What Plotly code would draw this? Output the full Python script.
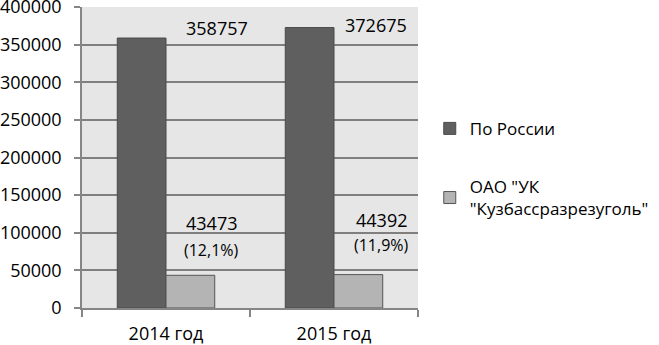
import plotly.graph_objects as go

categories = ["2014 год", "2015 год"]
russia = [358757, 372675]
kuzbass = [43473, 44392]
series_names = ["По России", 'ОАО "УК<br>"Кузбассразрезуголь"']
y_ticks = [0, 50000, 100000, 150000, 200000, 250000, 300000, 350000, 400000]
y_tick_labels = [str(v) for v in y_ticks]

FONT = "Open Sans"
W, H = 659, 345
L, R, T, B = 82, 241, 7, 37

fig = go.Figure()
fig.add_trace(go.Bar(x=categories, y=russia, name=series_names[0],
                     marker=dict(color="#5f5f5f", line=dict(color="#4a4a4a", width=1)),
                     legendgroup="a"))
fig.add_trace(go.Bar(x=categories, y=kuzbass, name=series_names[1],
                     marker=dict(color="#b4b4b4", line=dict(color="#555555", width=1)),
                     legendgroup="b"))

# value labels (positions as pixel offsets)
top_label_y = [372000, 376000]
top_shift = [51, 42]
for i, c in enumerate(categories):
    fig.add_annotation(x=c, y=top_label_y[i], xref="x", yref="y", xshift=top_shift[i],
                       text=str(russia[i]), showarrow=False,
                       font=dict(family=FONT, size=18, color="#000"))
low_label_y = [113000, 117000]
pct_label_y = [77000, 83700]
low_shift = [45, 47]
for i, c in enumerate(categories):
    pct = kuzbass[i] / russia[i] * 100
    fig.add_annotation(x=c, y=low_label_y[i], xref="x", yref="y", xshift=low_shift[i],
                       text=str(kuzbass[i]), showarrow=False,
                       font=dict(family=FONT, size=18, color="#000"))
    fig.add_annotation(x=c, y=pct_label_y[i], xref="x", yref="y", xshift=low_shift[i],
                       text="(" + f"{pct:.1f}".replace(".", ",") + "%)", showarrow=False,
                       font=dict(family=FONT, size=16, color="#000"))

fig.update_layout(
    width=W, height=H,
    margin=dict(l=L, r=R, t=T, b=B, pad=0, autoexpand=False),
    paper_bgcolor="white", plot_bgcolor="#e6e6e6",
    barmode="group", bargap=0.42, bargroupgap=0,
    font=dict(family=FONT, size=18, color="#000"),
    showlegend=True,
    legend=dict(x=1.035, y=0.655, xanchor="left", yanchor="top",
                font=dict(family=FONT, size=17, color="#000"),
                tracegroupgap=33, bgcolor="rgba(0,0,0,0)"),
    xaxis=dict(showline=True, linecolor="#868686", linewidth=1.5, automargin=False,
               ticks="outside", tickson="boundaries", ticklen=7, tickcolor="#868686",
               tickwidth=1.5, showgrid=False, ticklabelstandoff=9,
               tickfont=dict(family=FONT, size=18)),
    yaxis=dict(range=[0, 400000], tickvals=y_ticks, ticktext=y_tick_labels,
               showline=True, automargin=False, ticklabeloverflow="allow",
               linecolor="#868686", linewidth=1.5, ticks="outside", ticklen=6,
               tickcolor="#868686", tickwidth=1.5, showgrid=True,
               gridcolor="#7f7f7f", gridwidth=1.5, zeroline=False,
               ticklabelstandoff=9, tickfont=dict(family=FONT, size=18)),
)

fig.write_html("out.html", config={"displayModeBar": False},
               post_script="document.body.style.margin='0';")
